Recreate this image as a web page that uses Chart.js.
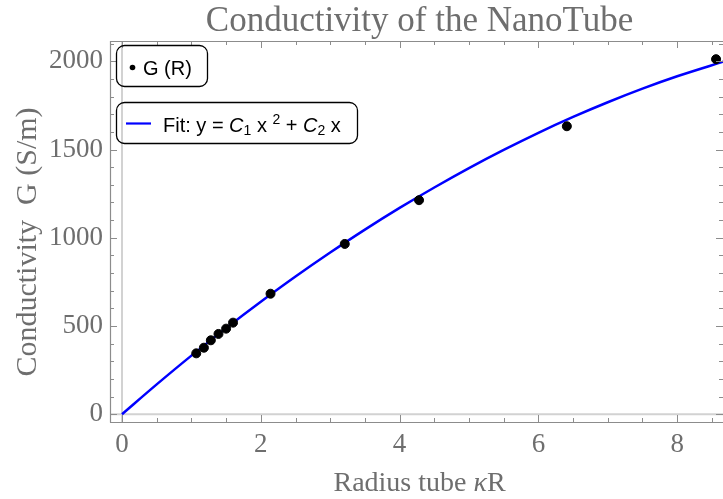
<!DOCTYPE html>
<html>
<head>
<meta charset="utf-8">
<script src="https://cdn.jsdelivr.net/npm/chart.js@4"></script>
<style>
  html, body { margin: 0; padding: 0; background: #fff; }
  #wrap { width: 723px; height: 499px; }
</style>
</head>
<body>
<div id="wrap"><canvas id="chart" width="723" height="499"></canvas></div>
<script>
// measured points G(R)
const radius = [1.07, 1.18, 1.28, 1.39, 1.50, 1.60, 2.14, 3.21, 4.28, 6.41, 8.56];
const conductivity = [345, 377, 419, 455, 485, 519, 683, 965, 1213, 1632, 2012];

// fitted curve
const fitX = [0, 0.5, 1, 1.5, 2, 2.5, 3, 3.5, 4, 4.5, 5, 5.5, 6, 6.5, 7, 7.5, 8, 8.7];
const fitY = [0, 169, 332, 488, 637, 780, 916, 1046, 1169, 1285, 1395, 1498, 1595, 1685, 1768, 1845, 1915, 2002];

const xTicks = [0, 2, 4, 6, 8];
const yTicks = [0, 500, 1000, 1500, 2000];

const gray = '#6e6e6e';
const frameColor = '#8c8c8c';
const serif = '"Liberation Serif", "DejaVu Serif", serif';
const sans = '"Liberation Sans", Arial, sans-serif';

function roundBox(ctx, x, y, w, h, r) {
    ctx.beginPath();
    ctx.moveTo(x + r, y);
    ctx.lineTo(x + w - r, y);
    ctx.arcTo(x + w, y, x + w, y + r, r);
    ctx.lineTo(x + w, y + h - r);
    ctx.arcTo(x + w, y + h, x + w - r, y + h, r);
    ctx.lineTo(x + r, y + h);
    ctx.arcTo(x, y + h, x, y + h - r, r);
    ctx.lineTo(x, y + r);
    ctx.arcTo(x, y, x + r, y, r);
    ctx.closePath();
    ctx.stroke();
}

// draws runs of text with different fonts one after the other
function drawRuns(ctx, parts, x, y) {
    for (const p of parts) {
        ctx.font = p.f;
        ctx.fillText(p.t, x, y + (p.dy || 0));
        x += ctx.measureText(p.t).width;
    }
}
function runsWidth(ctx, parts) {
    let w = 0;
    for (const p of parts) { ctx.font = p.f; w += ctx.measureText(p.t).width; }
    return w;
}

const framePlugin = {
    id: 'frame',
    beforeDatasetsDraw(chart) {
        const ctx = chart.ctx;
        const { left, right, top, bottom } = chart.chartArea;
        const x0 = chart.scales.x.getPixelForValue(0);
        const y0 = chart.scales.y.getPixelForValue(0);
        ctx.save();
        ctx.strokeStyle = '#d2d2d2';
        ctx.lineWidth = 2;
        ctx.beginPath();
        ctx.moveTo(x0, top); ctx.lineTo(x0, bottom);
        ctx.moveTo(left, y0); ctx.lineTo(right, y0);
        ctx.stroke();
        ctx.restore();
    },
    afterDraw(chart) {
        const ctx = chart.ctx;
        const { left, right, top, bottom } = chart.chartArea;
        const xs = chart.scales.x, ys = chart.scales.y;
        ctx.save();
        ctx.strokeStyle = frameColor;
        ctx.lineWidth = 1.2;
        ctx.beginPath();
        ctx.moveTo(left + 0.5, top + 0.5); ctx.lineTo(right, top + 0.5);
        ctx.moveTo(left + 0.5, top); ctx.lineTo(left + 0.5, bottom + 0.5);
        ctx.moveTo(left, bottom + 0.5); ctx.lineTo(right, bottom + 0.5);
        ctx.stroke();

        // ticks, inward, on all four sides
        ctx.lineWidth = 1;
        ctx.beginPath();
        for (let v = 0; v <= 8.6; v += 0.5) {
            const major = Math.abs(v % 2) < 1e-6;
            const len = major ? 7 : 4;
            const px = Math.round(xs.getPixelForValue(v)) + 0.5;
            ctx.moveTo(px, bottom); ctx.lineTo(px, bottom - len);
            ctx.moveTo(px, top); ctx.lineTo(px, top + len);
        }
        for (let v = 0; v <= 2100; v += 100) {
            const major = v % 500 === 0;
            const len = major ? 7 : 4;
            const py = Math.round(ys.getPixelForValue(v)) + 0.5;
            ctx.moveTo(left, py); ctx.lineTo(left + len, py);
            ctx.moveTo(right, py); ctx.lineTo(right - len, py);
        }
        ctx.stroke();

        // title
        ctx.fillStyle = gray;
        ctx.font = '35px ' + serif;
        ctx.textAlign = 'center';
        ctx.textBaseline = 'alphabetic';
        ctx.fillText('Conductivity of the NanoTube', (left + right) / 2 + 3, 31);

        // y axis title
        ctx.save();
        ctx.translate(28, 242);
        ctx.rotate(-Math.PI / 2);
        ctx.font = '30px ' + serif;
        ctx.textBaseline = 'middle';
        ctx.fillText('Conductivity  G (S/m)', 0, 0);
        ctx.restore();

        // x axis title, kappa in italics
        ctx.textAlign = 'left';
        const xt = [
            { t: 'Radius tube ', f: '28px ' + serif },
            { t: '\u03BA', f: 'italic 28px ' + serif },
            { t: 'R', f: '28px ' + serif }
        ];
        drawRuns(ctx, xt, (left + right) / 2 + 3 - runsWidth(ctx, xt) / 2, 491);

        // legend boxes
        ctx.strokeStyle = '#000';
        ctx.lineWidth = 1.3;
        roundBox(ctx, 116.5, 45.5, 91, 41, 8);
        roundBox(ctx, 116.5, 102.5, 241, 41, 8);

        ctx.fillStyle = '#000';
        ctx.beginPath();
        ctx.arc(132.5, 67.5, 2.8, 0, Math.PI * 2);
        ctx.fill();
        ctx.font = '20px ' + sans;
        ctx.fillText('G (R)', 143, 75);

        ctx.strokeStyle = '#0000ff';
        ctx.lineWidth = 2.2;
        ctx.beginPath();
        ctx.moveTo(126, 123.5); ctx.lineTo(151, 123.5);
        ctx.stroke();

        drawRuns(ctx, [
            { t: 'Fit: y = ', f: '20px ' + sans },
            { t: 'C', f: 'italic 20px ' + sans },
            { t: '1', f: '14px ' + sans, dy: 3 },
            { t: ' x ', f: '20px ' + sans },
            { t: '2', f: '14px ' + sans, dy: -8 },
            { t: ' + ', f: '20px ' + sans },
            { t: 'C', f: 'italic 20px ' + sans },
            { t: '2', f: '14px ' + sans, dy: 3 },
            { t: ' x', f: '20px ' + sans }
        ], 163, 131.5);
        ctx.restore();
    }
};

const ctx = document.getElementById('chart').getContext('2d');
const chart = new Chart(ctx, {
    type: 'scatter',
    data: {
        datasets: [
            {
                label: 'G (R)',
                data: radius.map((r, i) => ({ x: r, y: conductivity[i] })),
                backgroundColor: '#000',
                borderColor: '#000',
                pointRadius: 4.5,
                showLine: false,
                order: 0
            },
            {
                label: 'Fit',
                data: fitX.map((r, i) => ({ x: r, y: fitY[i] })),
                showLine: true,
                borderColor: '#0000ff',
                borderWidth: 2.5,
                pointRadius: 0,
                cubicInterpolationMode: 'monotone',
                order: 1
            }
        ]
    },
    options: {
        responsive: false,
        animation: false,
        layout: { autoPadding: false, padding: { top: 41, right: 0, left: 0, bottom: 0 } },
        plugins: {
            legend: { display: false },
            title: { display: false },
            tooltip: { enabled: false }
        },
        scales: {
            x: {
                type: 'linear',
                min: -0.173,
                max: 8.66,
                grid: { display: false, tickLength: 0 },
                border: { display: false },
                afterBuildTicks: s => { s.ticks = xTicks.map(v => ({ value: v })); },
                afterFit: s => { s.height = 77; },
                ticks: {
                    color: gray,
                    padding: 7,
                    maxRotation: 0,
                    font: { family: serif, size: 27 },
                    callback: v => String(v)
                }
            },
            y: {
                type: 'linear',
                min: -44,
                max: 2115,
                grid: { display: false, tickLength: 0 },
                border: { display: false },
                afterBuildTicks: s => { s.ticks = yTicks.map(v => ({ value: v })); },
                afterFit: s => { s.width = 110; },
                ticks: {
                    color: gray,
                    padding: 7,
                    font: { family: serif, size: 27 },
                    callback: v => String(v)
                }
            }
        }
    },
    plugins: [framePlugin]
});
</script>
</body>
</html>
